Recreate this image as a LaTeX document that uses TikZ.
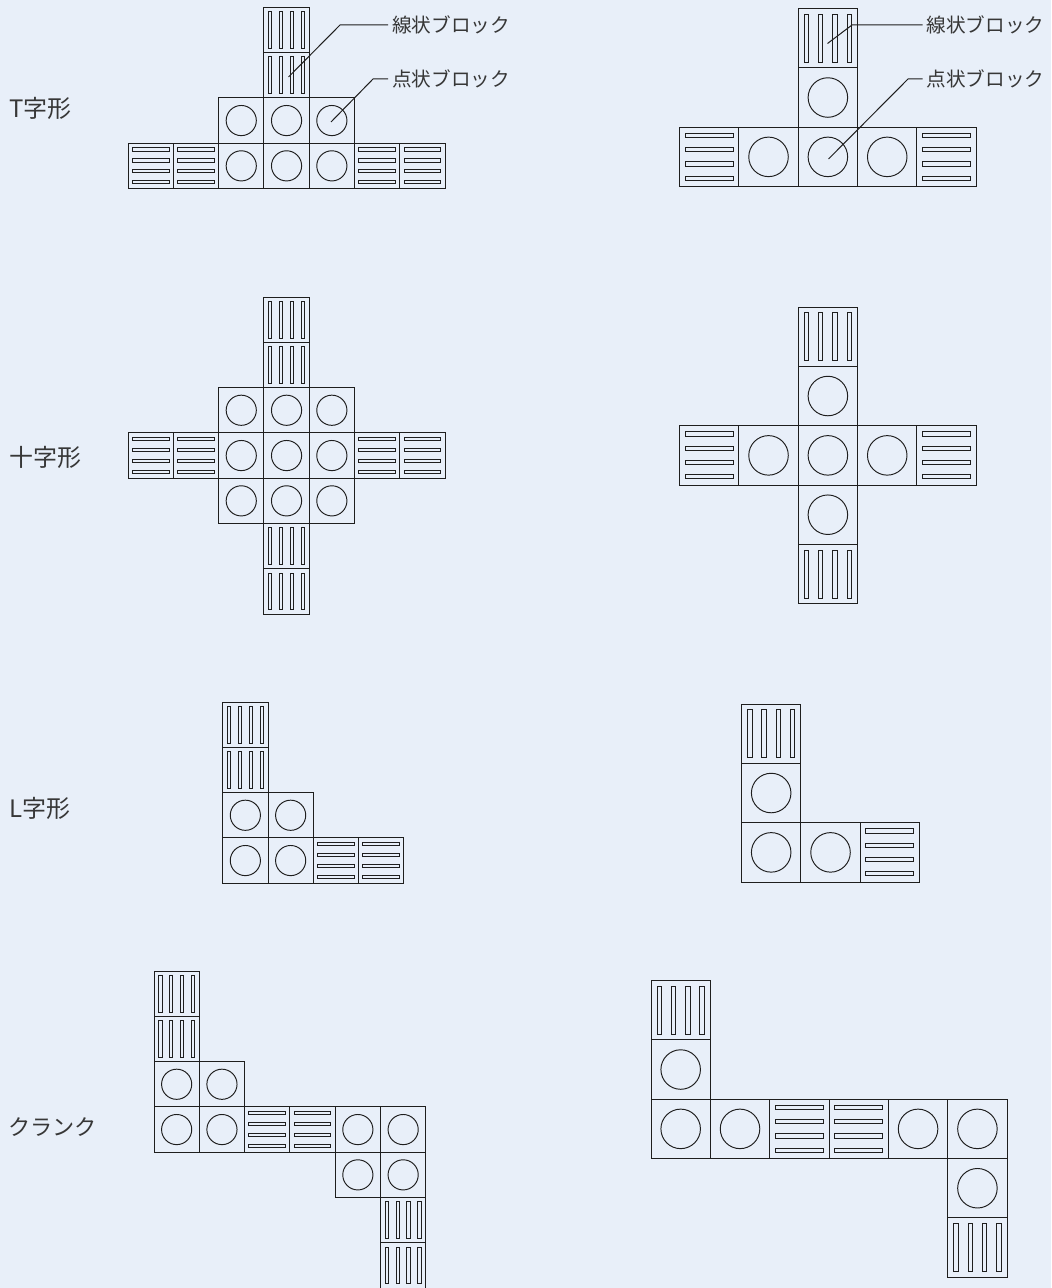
\documentclass[tikz,border=0pt]{standalone}
\usepackage{fontspec}
\setmainfont{Noto Sans CJK JP}
\definecolor{bgc}{RGB}{232,239,249}
\definecolor{ink}{RGB}{30,30,30}
\definecolor{txt}{RGB}{55,55,55}
\tikzset{
  blockline/.style={draw=ink,line width=0.75pt},
  barline/.style={draw=ink,line width=0.72pt},
  leader/.style={draw=ink,line width=0.75pt},
  calltext/.style={anchor=west,inner sep=0pt,text=txt,font=\fontsize{14.7}{16}\selectfont},
  sidetext/.style={anchor=west,inner sep=0pt,text=txt,font=\fontsize{18}{20}\selectfont},
  sidekana/.style={anchor=west,inner sep=0pt,text=txt,font=\fontsize{16.6}{19}\selectfont}
}
\newcommand\blkV{%
  \draw[blockline] (0,0) rectangle (1,1);
  \foreach \k in {0.14,0.38,0.62,0.86}
    \draw[barline] (\k-0.037,0.095) rectangle (\k+0.037,0.905);
}
\newcommand\blkH{%
  \draw[blockline] (0,0) rectangle (1,1);
  \foreach \k in {0.14,0.38,0.62,0.86}
    \draw[barline] (0.095,\k-0.037) rectangle (0.905,\k+0.037);
}
\newcommand\blkD{%
  \draw[blockline] (0,0) rectangle (1,1);
  \draw[barline] (0.5,0.5) circle[radius=0.333];
}
\newcommand\grid[4]{%
  \foreach \c/\r/\t in {#4}{
    \begin{scope}[shift={({#1+\c*#3},{#2+\r*#3})},scale=#3]
      \csname blk\t\endcsname
    \end{scope}
  }
}
\begin{document}
\begin{tikzpicture}[x=0.75pt,y=-0.75pt]
\useasboundingbox (0,0) rectangle (1051,1288);
\fill[bgc] (0,0) rectangle (1051,1288);
% T left
\grid{128}{7.3}{45.3}{3/0/V,3/1/V,2/2/D,3/2/D,4/2/D,0/3/H,1/3/H,2/3/D,3/3/D,4/3/D,5/3/H,6/3/H}
% T right
\grid{679.5}{8.5}{59.35}{2/0/V,2/1/D,0/2/H,1/2/D,2/2/D,3/2/D,4/2/H}
% Cross left
\grid{128}{297}{45.3}{3/0/V,3/1/V,2/2/D,3/2/D,4/2/D,0/3/H,1/3/H,2/3/D,3/3/D,4/3/D,5/3/H,6/3/H,2/4/D,3/4/D,4/4/D,3/5/V,3/6/V}
% Cross right
\grid{679.5}{307}{59.35}{2/0/V,2/1/D,0/2/H,1/2/D,2/2/D,3/2/D,4/2/H,2/3/D,2/4/V}
% L left
\grid{222.7}{702}{45.3}{0/0/V,0/1/V,0/2/D,1/2/D,0/3/D,1/3/D,2/3/H,3/3/H}
% L right
\grid{741.5}{704}{59.35}{0/0/V,0/1/D,0/2/D,1/2/D,2/2/H}
% Crank left
\grid{154}{971}{45.3}{0/0/V,0/1/V,0/2/D,1/2/D,0/3/D,1/3/D,2/3/H,3/3/H,4/3/D,5/3/D,4/4/D,5/4/D,5/5/V,5/6/V}
% Crank right
\grid{651}{980.5}{59.35}{0/0/V,0/1/D,0/2/D,1/2/D,2/2/H,3/2/H,4/2/D,5/2/D,5/3/D,5/4/V}
% Labels
\node[sidetext] (lt) at (9,108) {T字形};
\node[sidetext] (lc) at (9,457.5) {十字形};
\node[sidetext] (ll) at (9,808.5) {L字形};
\node[sidekana] (lk) at (8,1127.5) {クランク};
\node[calltext] (a1) at (392,25) {線状ブロック};
\node[calltext] (a2) at (392,79) {点状ブロック};
\node[calltext] (b1) at (926.5,25) {線状ブロック};
\node[calltext] (b2) at (926.5,79) {点状ブロック};
% Leaders
\coordinate (pa1) at (288.5,77);
\coordinate (pa2) at (331,122);
\coordinate (pb1) at (827.5,43.5);
\coordinate (pb2) at (828.5,159);
\draw[leader] (a1.west) ++(-4,0) -- (340,25) -- (pa1);
\draw[leader] (a2.west) ++(-4,0) -- (373,79) -- (pa2);
\draw[leader] (b1.west) ++(-4,0) -- (852,25) -- (pb1);
\draw[leader] (b2.west) ++(-4,0) -- (908,79) -- (pb2);
\end{tikzpicture}
\end{document}
